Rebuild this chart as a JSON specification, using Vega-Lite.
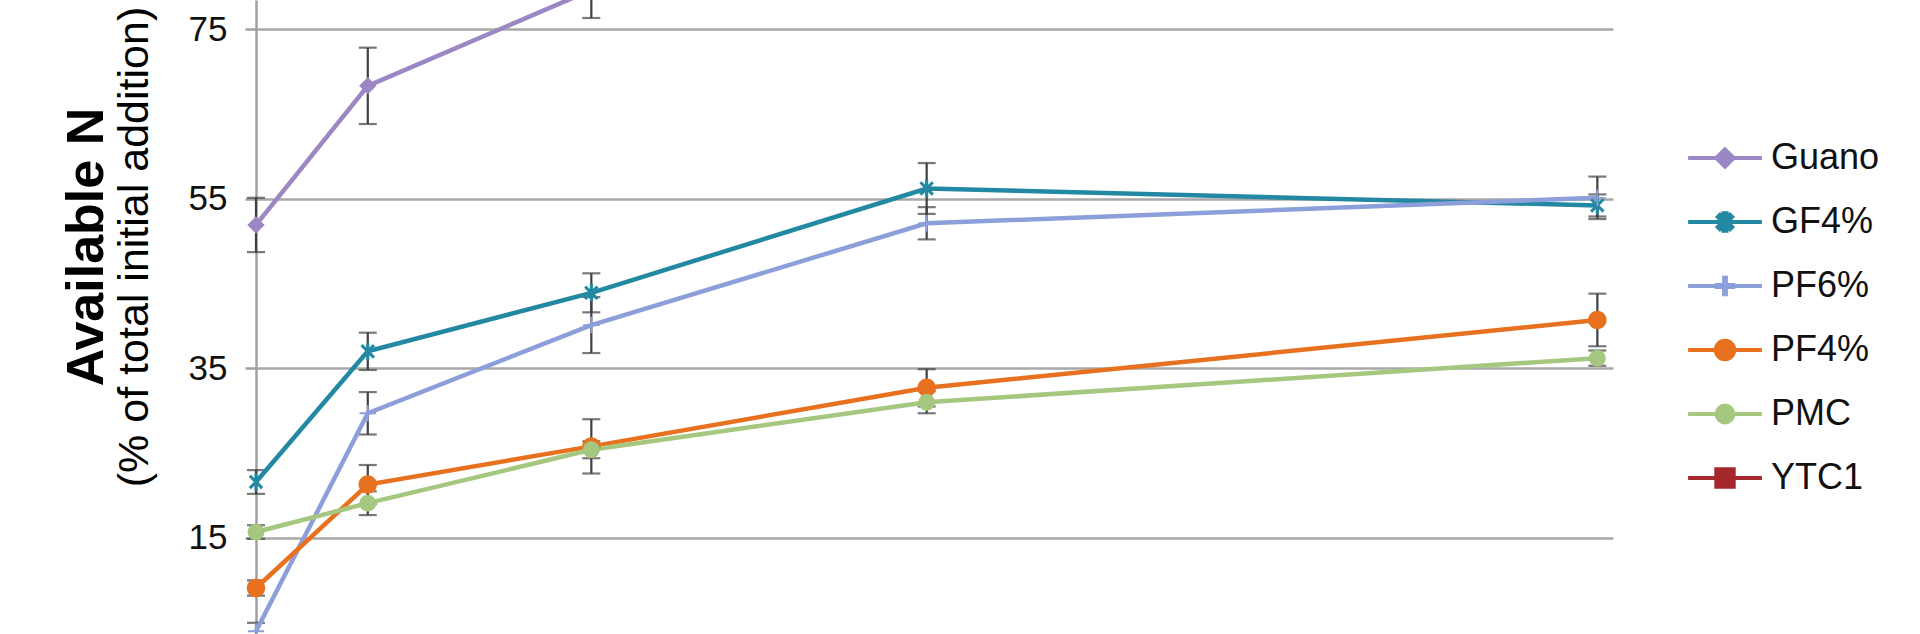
{
  "$schema": "https://vega.github.io/schema/vega-lite/v6.json",
  "width": 1357,
  "height": 634,
  "autosize": {"type": "none"},
  "padding": {"left": 256, "top": 0, "right": 307, "bottom": 0},
  "background": "white",
  "config": {
    "view": {"stroke": null},
    "font": "Liberation Sans",
    "legend": {
      "orient": "none",
      "legendX": 1451,
      "legendY": 140,
      "padding": 0,
      "labelFont": "Liberation Sans",
      "labelFontSize": 36,
      "labelColor": "#111111",
      "labelOffset": 28,
      "rowPadding": 28,
      "symbolSize": 420,
      "symbolStrokeWidth": 4,
      "titlePadding": 0
    }
  },
  "title": {
    "text": "Available N",
    "subtitle": "(% of total initial addition)",
    "orient": "left",
    "anchor": "middle",
    "frame": "group",
    "font": "Liberation Sans",
    "fontSize": 52,
    "fontWeight": "bold",
    "color": "#000000",
    "subtitleFont": "Liberation Sans",
    "subtitleFontSize": 43,
    "subtitleFontWeight": "normal",
    "subtitleColor": "#000000",
    "subtitlePadding": 0,
    "offset": 30,
    "dx": 70
  },
  "data": {
    "values": [
      {"series": "Guano", "t": 0, "v": 51.9, "e": 3.2},
      {"series": "Guano", "t": 1, "v": 68.3, "e": 4.5},
      {"series": "Guano", "t": 3, "v": 79.6, "e": 3.3},
      {"series": "Guano", "t": 6, "v": 85.0, "e": 3.0},
      {"series": "Guano", "t": 12, "v": 88.0, "e": 3.0},
      {"series": "GF4%", "t": 0, "v": 21.6, "e": 1.4},
      {"series": "GF4%", "t": 1, "v": 37.0, "e": 2.2},
      {"series": "GF4%", "t": 3, "v": 43.9, "e": 2.3},
      {"series": "GF4%", "t": 6, "v": 56.2, "e": 3.0},
      {"series": "GF4%", "t": 12, "v": 54.2, "e": 1.3},
      {"series": "PF6%", "t": 0, "v": 4.0, "e": 1.0},
      {"series": "PF6%", "t": 1, "v": 29.7, "e": 2.5},
      {"series": "PF6%", "t": 3, "v": 40.1, "e": 3.3},
      {"series": "PF6%", "t": 6, "v": 52.1, "e": 1.9},
      {"series": "PF6%", "t": 12, "v": 55.1, "e": 2.5},
      {"series": "PF4%", "t": 0, "v": 9.1, "e": 0.9},
      {"series": "PF4%", "t": 1, "v": 21.3, "e": 2.3},
      {"series": "PF4%", "t": 3, "v": 25.8, "e": 3.2},
      {"series": "PF4%", "t": 6, "v": 32.7, "e": 2.2},
      {"series": "PF4%", "t": 12, "v": 40.7, "e": 3.1},
      {"series": "PMC", "t": 0, "v": 15.7, "e": 0.8},
      {"series": "PMC", "t": 1, "v": 19.1, "e": 1.4},
      {"series": "PMC", "t": 3, "v": 25.4, "e": 1.0},
      {"series": "PMC", "t": 6, "v": 31.0, "e": 1.3},
      {"series": "PMC", "t": 12, "v": 36.2, "e": 0.9}
    ]
  },
  "encoding": {
    "x": {"field": "t", "type": "quantitative", "scale": {"domain": [0, 12.14], "nice": false, "zero": false}, "axis": null},
    "y": {
      "field": "v",
      "type": "quantitative",
      "scale": {"domain": [3.68, 78.42], "nice": false, "zero": false},
      "axis": {
        "values": [15, 35, 55, 75],
        "title": null,
        "grid": true,
        "gridColor": "#A8A8A8",
        "gridWidth": 2.5,
        "domainColor": "#A0A0A0",
        "domainWidth": 2.5,
        "tickColor": "#A0A0A0",
        "tickWidth": 2.5,
        "tickSize": 11,
        "labelFont": "Liberation Sans",
        "labelFontSize": 35,
        "labelColor": "#111111",
        "labelPadding": 18,
        "labelFlush": false,
        "labelOverlap": false
      }
    }
  },
  "layer": [
    {
      "mark": {"type": "errorbar", "color": "#404040", "thickness": 2.2, "ticks": {"size": 18, "color": "#404040", "thickness": 2.2}},
      "encoding": {"yError": {"field": "e"}, "detail": {"field": "series", "type": "nominal"}}
    },
    {
      "mark": {"type": "line", "strokeWidth": 4.5},
      "encoding": {
        "stroke": {
          "field": "series",
          "type": "nominal",
          "title": null,
          "scale": {
            "domain": ["Guano", "GF4%", "PF6%", "PF4%", "PMC", "YTC1"],
            "range": ["#9B87C3", "#2388A2", "#8C9FDA", "#E8711F", "#A5C77F", "#A5282C"]
          }
        }
      }
    },
    {
      "mark": {"type": "point", "filled": true, "opacity": 1, "size": 420},
      "encoding": {
        "color": {
          "field": "series",
          "type": "nominal",
          "title": null,
          "scale": {
            "domain": ["Guano", "GF4%", "PF6%", "PF4%", "PMC", "YTC1"],
            "range": ["#9B87C3", "#2388A2", "#8C9FDA", "#E8711F", "#A5C77F", "#A5282C"]
          }
        },
        "shape": {
          "field": "series",
          "type": "nominal",
          "title": null,
          "scale": {
            "domain": ["Guano", "GF4%", "PF6%", "PF4%", "PMC", "YTC1"],
            "range": [
              "M-3.6,0H3.6M0,-0.85L0.85,0L0,0.85L-0.85,0Z",
              "M-3.6,0H3.6M-0.15,-0.85H0.15V0.85H-0.15ZM0.71,0.5L0.5,0.71L-0.71,-0.5L-0.5,-0.71ZM0.71,-0.5L-0.5,0.71L-0.71,0.5L0.5,-0.71Z",
              "M-3.6,0H3.6M-0.09,-0.8H0.09V0.8H-0.09ZM-0.8,-0.09H0.8V0.09H-0.8Z",
              "M-3.6,0H3.6M-0.9,0A0.9,0.9 0 1,1 0.9,0A0.9,0.9 0 1,1 -0.9,0Z",
              "M-3.6,0H3.6M-0.82,0A0.82,0.82 0 1,1 0.82,0A0.82,0.82 0 1,1 -0.82,0Z",
              "M-3.6,0H3.6M-0.85,-0.85H0.85V0.85H-0.85Z"
            ]
          }
        }
      }
    }
  ]
}
